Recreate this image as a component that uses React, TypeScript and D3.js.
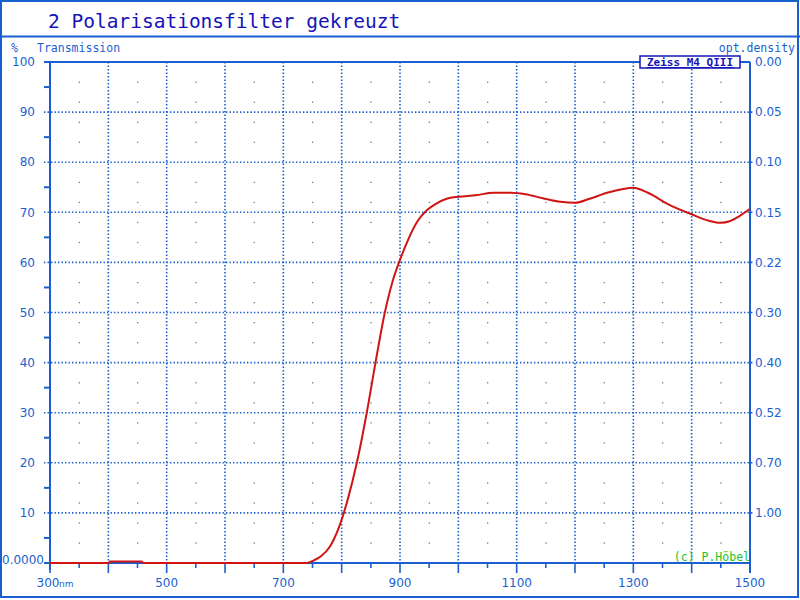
import React, { useEffect, useRef } from 'react';
import * as d3 from 'd3';

// spectrum (nm, % transmission)
const wavelengths = [300, 400, 403, 457, 460, 738, 752, 765, 780, 795, 810, 826, 843, 858, 874, 888, 900, 915, 930, 945, 960, 980, 1000, 1030, 1060, 1090, 1115, 1145, 1175, 1200, 1225, 1255, 1280, 1300, 1325, 1360, 1400, 1430, 1450, 1465, 1480, 1500];
const transmission = [0, 0, 0.3, 0.3, 0, 0, 0.5, 1.4, 3.3, 7, 12.5, 20, 30, 40, 50, 56.5, 60.5, 64.8, 68.2, 70.3, 71.6, 72.7, 73.1, 73.4, 73.9, 73.9, 73.6, 72.8, 72.1, 71.9, 72.7, 73.9, 74.6, 74.9, 73.9, 71.6, 69.6, 68.3, 67.9, 68.2, 69.1, 70.7];

const leftTicks = [10, 20, 30, 40, 50, 60, 70, 80, 90, 100];
const odLabels = ['1.00', '0.70', '0.52', '0.40', '0.30', '0.22', '0.15', '0.10', '0.05', '0.00'];
const xLabels = [300, 500, 700, 900, 1100, 1300, 1500];

const BLUE = '#1a5fd0';
const DARK = '#1414b8';

const App: React.FC = () => {
  const svgRef = useRef<SVGSVGElement>(null);

  useEffect(() => {
    if (!svgRef.current) return;
    const svg = d3.select(svgRef.current);
    svg.selectAll('*').remove();

    const x = d3.scaleLinear().domain([300, 1500]).range([50, 750]);
    const y = d3.scaleLinear().domain([0, 100]).range([563, 62]);

    svg.append('rect').attr('width', 800).attr('height', 600).attr('fill', '#fff');

    // outer frame and title strip
    svg.append('rect').attr('x', 1).attr('y', 1).attr('width', 797).attr('height', 596)
      .attr('fill', 'none').attr('stroke', BLUE).attr('stroke-width', 2);
    svg.append('line').attr('x1', 0).attr('x2', 800).attr('y1', 36.5).attr('y2', 36.5)
      .attr('stroke', BLUE).attr('stroke-width', 2);

    svg.append('text').attr('x', 48).attr('y', 28)
      .attr('font-family', 'DejaVu Sans Mono').attr('font-size', 19.5)
      .attr('fill', DARK).text('2 Polarisationsfilter gekreuzt');

    const small = (sel: any) => sel.attr('font-family', 'DejaVu Sans Mono').attr('font-size', 11.5).attr('fill', BLUE);
    small(svg.append('text').attr('x', 11).attr('y', 52).text('%'));
    small(svg.append('text').attr('x', 37).attr('y', 52).text('Transmission'));
    small(svg.append('text').attr('x', 795).attr('y', 52).attr('text-anchor', 'end').text('opt.density'));

    // grey helper dots every 4 % at the 50 nm positions
    const dots = svg.append('g').attr('fill', '#7a7a7a');
    d3.range(350, 1500, 100).forEach(nm => {
      d3.range(4, 100, 4).filter(v => v % 10 !== 0).forEach(v => {
        dots.append('rect').attr('x', x(nm) - 0.5).attr('y', y(v) - 0.5).attr('width', 1.3).attr('height', 1.3);
      });
    });

    // dotted grid
    const grid = svg.append('g').attr('stroke', BLUE).attr('stroke-width', 1.6).attr('stroke-dasharray', '1.4 2.1');
    d3.range(10, 100, 10).forEach(v => {
      grid.append('line').attr('x1', 44).attr('x2', 753).attr('y1', y(v)).attr('y2', y(v));
    });
    d3.range(400, 1500, 100).forEach(nm => {
      grid.append('line').attr('x1', x(nm)).attr('x2', x(nm)).attr('y1', 62).attr('y2', 563);
    });

    // axes frame
    const ax = svg.append('g').attr('stroke', BLUE).attr('stroke-width', 2).attr('fill', 'none');
    ax.append('line').attr('x1', 50).attr('x2', 50).attr('y1', 62).attr('y2', 570);
    ax.append('line').attr('x1', 44).attr('x2', 750).attr('y1', 62).attr('y2', 62);
    ax.append('line').attr('x1', 44).attr('x2', 750).attr('y1', 563).attr('y2', 563);
    ax.append('line').attr('x1', 750).attr('x2', 750).attr('y1', 62).attr('y2', 573);

    // left ticks (minor at the 5s)
    d3.range(5, 100, 10).forEach(v => {
      ax.append('line').attr('x1', 44).attr('x2', 50).attr('y1', y(v)).attr('y2', y(v));
    });
    // bottom ticks
    d3.range(300, 1501, 50).forEach(nm => {
      ax.append('line').attr('x1', x(nm)).attr('x2', x(nm)).attr('y1', 563)
        .attr('y2', nm % 100 === 0 ? 573 : 568).attr('stroke-width', 1.6);
    });

    const lbl = svg.append('g').attr('font-family', 'DejaVu Sans').attr('font-size', 12).attr('fill', BLUE);
    leftTicks.forEach(v => {
      lbl.append('text').attr('x', 35).attr('y', y(v)).attr('dy', '0.35em').attr('text-anchor', 'end').text(v);
    });
    lbl.append('text').attr('x', 2).attr('y', 560).attr('dy', '0.35em').text('0.0000');
    leftTicks.forEach((v, i) => {
      lbl.append('text').attr('x', 755).attr('y', y(v)).attr('dy', '0.35em').text(odLabels[i]);
    });
    xLabels.forEach(nm => {
      if (nm === 300) {
        lbl.append('text').attr('x', 48).attr('y', 587).attr('text-anchor', 'middle').text(nm);
        lbl.append('text').attr('x', 59).attr('y', 587).attr('font-size', 9).text('nm');
      } else {
        lbl.append('text').attr('x', x(nm)).attr('y', 587).attr('text-anchor', 'middle').text(nm);
      }
    });

    // instrument tag
    svg.append('rect').attr('x', 640).attr('y', 56).attr('width', 100).attr('height', 12)
      .attr('fill', '#fff').attr('stroke', DARK).attr('stroke-width', 1.5);
    svg.append('text').attr('x', 690).attr('y', 66).attr('text-anchor', 'middle')
      .attr('font-family', 'DejaVu Sans Mono').attr('font-size', 11).attr('font-weight', 'bold')
      .attr('text-decoration', 'underline').attr('fill', DARK).text('Zeiss M4 QIII');

    svg.append('text').attr('x', 750).attr('y', 561).attr('text-anchor', 'end')
      .attr('font-family', 'DejaVu Sans Mono').attr('font-size', 11.5).attr('fill', '#22c422')
      .text('(c) P.Höbel');

    // curve
    const pts = wavelengths.map((w, i) => [w, transmission[i]] as [number, number]);
    const line = d3.line<[number, number]>().x(d => x(d[0])).y(d => y(d[1])).curve(d3.curveMonotoneX);
    svg.append('path').attr('d', line(pts) as string).attr('fill', 'none')
      .attr('stroke', '#d01414').attr('stroke-width', 2);
  }, []);

  return (
    <svg ref={svgRef} width={800} height={600} viewBox="0 0 800 600"
      style={{ position: 'absolute', left: 0, top: 0, display: 'block' }} />
  );
};

export default App;
